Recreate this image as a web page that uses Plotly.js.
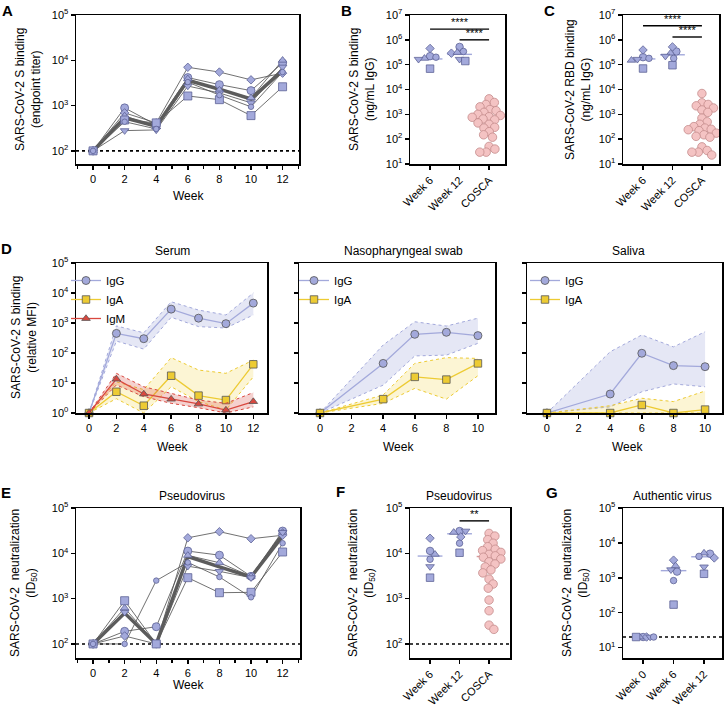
<!DOCTYPE html>
<html><head><meta charset="utf-8">
<script src="https://cdn.plot.ly/plotly-3.0.1.min.js"></script>
<style>html,body{margin:0;padding:0;background:#fff}#chart{width:724px;height:707px}</style>
</head><body><div id="chart"></div>
<script>
// ---------------- DATA ----------------
const weeksAE = [0, 2, 4, 6, 8, 10, 12];
// Panel A: S binding endpoint titer per animal (6 animals)
const A_circle      = [100, 890, 375, 4150, 2900, 2140, 8700];
const A_diamond     = [100, 690, 415, 7000, 5500, 3700, 5200];
const A_triUp       = [100, 590, 340, 3900, 2200, 1480, 10000];
const A_triDown     = [100, 280, 290, 2700, 1900, 1150, 7100];
const A_square      = [100, 480, 415, 1630, 1350, 600, 2600];
const A_smallCircle = [100, 440, 305, 3300, 1700, 940, 5500];
const A_gmean       = [100, 540, 350, 3600, 2300, 1400, 6000];
const A_lod = 100;

// Panels B, C, F, G: categories
const catBC = ['Week 6', 'Week 12', 'COSCA'];
const catF = ['Week 6', 'Week 12', 'COSCA'];
const catG = ['Week 0', 'Week 6', 'Week 12'];
// order of animals: circle, diamond, triangle-up, triangle-down, square, small circle
const B_week6  = [220000, 450000, 180000, 165000, 69000, 200000];
const B_week12 = [520000, 290000, 310000, 165000, 140000, 340000];
const B_cosca  = [4200, 3000, 2500, 2000, 1550, 1400, 1200, 1000, 900, 800, 760, 700, 650, 600, 450, 400, 300, 280, 200, 150, 120, 51, 40, 30, 30];
const B_median = [170000, 260000, 700];
const B_sig = [{from: 0, to: 2, y: 2.7e6, label: '****'}, {from: 1, to: 2, y: 1.0e6, label: '****'}];

const C_week6  = [200000, 390000, 150000, 165000, 70000, 180000];
const C_week12 = [340000, 520000, 290000, 220000, 95000, 180000];
const C_cosca  = [6900, 2900, 2500, 2200, 1800, 1500, 1200, 700, 500, 400, 320, 280, 250, 240, 220, 175, 150, 130, 120, 49, 35, 30, 30, 23];
const C_median = [170000, 250000, 250];
const C_sig = [{from: 0, to: 2, y: 3.7e6, label: '****'}, {from: 1, to: 2, y: 1.3e6, label: '****'}];

// Panel D: relative MFI, mean with band
const weeksSerum = [0, 2, 4, 6, 8, 10, 12];
const serumIgG    = [1, 450, 300, 2900, 1450, 950, 4600];
const serumIgG_hi = [1, 800, 470, 5100, 2700, 1850, 10000];
const serumIgG_lo = [1, 250, 135, 1550, 760, 680, 1850];
const serumIgA    = [1, 5.1, 1.75, 17.5, 3.8, 2.7, 42];
const serumIgA_hi = [1, 11, 6, 70, 27, 21, 58];
const serumIgA_lo = [1, 3, 1, 7.5, 2.4, 1.26, 16];
const serumIgM    = [1, 13.5, 4.3, 2.9, 2.0, 1.25, 2.4];
const serumIgM_hi = [1, 21, 7.5, 4.5, 2.7, 2.1, 4.8];
const serumIgM_lo = [1, 8.6, 3.5, 2.1, 1.5, 1.0, 1.6];

const weeksMucosal = [0, 4, 6, 8, 10];
const nasoIgG    = [1, 45, 420, 490, 380];
const nasoIgG_hi = [1, 185, 1100, 790, 1450];
const nasoIgG_lo = [1, 8.5, 80, 85, 210];
const nasoIgA    = [1, 2.9, 16, 13, 45];
const nasoIgA_hi = [1, 4, 45, 70, 66];
const nasoIgA_lo = [1, 2.1, 6.6, 2.9, 17.5];

const salIgG    = [1, 4.3, 98, 38, 35];
const salIgG_hi = [1, 110, 400, 160, 510];
const salIgG_lo = [1, 1.6, 5.1, 9.3, 7.5];
const salIgA    = [1, 1.0, 1.85, 1.0, 1.3];
const salIgA_hi = [1, 1.75, 3.1, 2.4, 5.4];
const salIgA_lo = [1, 1, 1, 1, 1];

// Panel E: pseudovirus ID50 per animal
const E_circle      = [100, 190, 240, 11200, 9100, 3100, 31000];
const E_diamond     = [100, 150, 100, 22000, 30000, 21000, 25000];
const E_triUp       = [100, 620, 100, 9000, 6200, 3100, 29000];
const E_triDown     = [100, 500, 100, 5200, 4000, 2900, 29000];
const E_square      = [100, 900, 100, 2900, 1350, 1380, 10700];
const E_smallCircle = [100, 100, 2500, 6300, 3000, 1070, 16700];
const E_gmean       = [100, 480, 100, 8500, 5000, 3000, 24000];
const E_lod = 100;

// Panel F
const F_week6  = [11300, 21500, 9500, 5100, 2900, 7400];
const F_week12 = [31000, 23000, 29000, 31000, 10300, 16700];
const F_cosca  = [27500, 24000, 20000, 16700, 14000, 12300, 11500, 10500, 9500, 8800, 8200, 7500, 6500, 5800, 5000, 4300, 3700, 2700, 2100, 1700, 930, 540, 260, 210];
const F_median = [8700, 27000, 8500];
const F_sig = [{from: 1, to: 2, y: 52000, label: '**'}];
const F_lod = 100;

// Panel G
const G_week0  = [20, 20, 20, 20, 20, 20];
const G_week6  = [1500, 3200, 2200, 1700, 170, 830];
const G_week12 = [4900, 3700, 5100, 2050, 1300, 4100];
const G_median = [20, 1600, 4000];
const G_lod = 20;

// ---------------- STYLE ----------------
const W = 724, H = 707;
const FONT = 'Liberation Sans, Arial, Helvetica, sans-serif';
const FILL = '#A3A9DB', EDGE = '#5d6296';
const PINK = '#F4C3C3', PINK_EDGE = '#c48c8c';
const SYM = ['circle', 'diamond', 'triangle-up', 'triangle-down', 'square', 'circle'];
const SIZE_LINE = [8, 6.5, 7.5, 7.5, 8, 5.5];
const SIZE_DOT = [7.5, 6.5, 7.5, 7.5, 7.5, 6.5];
const C_IGG = '#A3A9DB', C_IGA = '#EDCB33', C_IGM = '#D9483F';

const BOX = {
  A:  {n: 1, x: [76, 299],  y: [15, 164],  xr: [-1.08, 13.04], yr: [1.71, 5]},
  B:  {n: 2, x: [410, 505], y: [15, 164],  xr: [-0.68, 2.54], yr: [1, 7]},
  C:  {n: 3, x: [623, 719], y: [15, 164],  xr: [-0.68, 2.58], yr: [1, 7]},
  D1: {n: 4, x: [76, 267],  y: [263, 413], xr: [-0.95, 13], yr: [0, 5]},
  D2: {n: 5, x: [299, 495], y: [263, 413], xr: [-1.33, 11.08], yr: [0, 5]},
  D3: {n: 6, x: [527, 722], y: [263, 413], xr: [-1.26, 11.07], yr: [0, 5]},
  E:  {n: 7, x: [76, 300],  y: [508, 658], xr: [-1.08, 13.1], yr: [1.69, 5]},
  F:  {n: 8, x: [410, 510], y: [508, 658], xr: [-0.68, 2.71], yr: [1.69, 5]},
  G:  {n: 9, x: [623, 722], y: [508, 658], xr: [-0.66, 2.59], yr: [0.7, 5]},
};

const traces = [];
const layout = {
  width: W, height: H, margin: {l: 0, r: 0, t: 0, b: 0}, autosize: false,
  paper_bgcolor: '#fff', plot_bgcolor: '#fff', showlegend: true,
  font: {family: FONT, size: 11, color: '#000'},
  annotations: []
};
const axBase = {
  showline: true, linecolor: '#000', linewidth: 1.5, mirror: true,
  ticks: 'outside', ticklen: 4, tickwidth: 1.5, tickcolor: '#000',
  showgrid: false, zeroline: false, fixedrange: true,
  tickfont: {family: FONT, size: 11, color: '#000'}
};
function sfx(n) { return n === 1 ? '' : String(n); }
function decTicks(lo, hi) {
  const v = [], t = [];
  for (let e = lo; e <= hi; e++) { v.push(Math.pow(10, e)); t.push('10<sup>' + e + '</sup>'); }
  return {tickmode: 'array', tickvals: v, ticktext: t};
}
function setAxes(key, xo, yo) {
  const b = BOX[key], s = sfx(b.n);
  layout['xaxis' + s] = Object.assign({}, axBase, {domain: [b.x[0] / W, b.x[1] / W], range: b.xr, anchor: 'y' + s}, xo);
  layout['yaxis' + s] = Object.assign({}, axBase, {domain: [1 - b.y[1] / H, 1 - b.y[0] / H], range: b.yr, type: 'log', anchor: 'x' + s}, yo);
}
const weekTicks = {tickmode: 'array', tickvals: [0, 2, 4, 6, 8, 10, 12], ticktext: ['0', '2', '4', '6', '8', '10', '12'],
  minor: {dtick: 1, tick0: 0, ticks: 'outside', ticklen: 3, tickwidth: 1.5, tickcolor: '#000'}};
setAxes('A', weekTicks, decTicks(2, 5));
setAxes('B', {tickmode: 'array', tickvals: [0, 1, 2], ticktext: catBC, tickangle: -45}, decTicks(1, 7));
setAxes('C', {tickmode: 'array', tickvals: [0, 1, 2], ticktext: catBC, tickangle: -45}, decTicks(1, 7));
setAxes('D1', {tickmode: 'array', tickvals: [0, 2, 4, 6, 8, 10, 12]}, decTicks(0, 5));
setAxes('D2', {tickmode: 'array', tickvals: [0, 2, 4, 6, 8, 10]}, Object.assign(decTicks(0, 5), {showticklabels: false}));
setAxes('D3', {tickmode: 'array', tickvals: [0, 2, 4, 6, 8, 10]}, Object.assign(decTicks(0, 5), {showticklabels: false}));
setAxes('E', weekTicks, decTicks(2, 5));
setAxes('F', {tickmode: 'array', tickvals: [0, 1, 2], ticktext: catF, tickangle: -45}, decTicks(2, 5));
setAxes('G', {tickmode: 'array', tickvals: [0, 1, 2], ticktext: catG, tickangle: -45}, decTicks(1, 5));

function ax(key) { const s = sfx(BOX[key].n); return {xaxis: 'x' + s, yaxis: 'y' + s}; }
function add(key, t) { traces.push(Object.assign({type: 'scatter', showlegend: false, hoverinfo: 'skip', cliponaxis: false}, ax(key), t)); }

function lodLine(key, v) {
  const r = BOX[key].xr;
  add(key, {mode: 'lines', x: [r[0], r[1]], y: [v, v], line: {color: '#000', width: 1.6, dash: 'dot'}, cliponaxis: true});
}

// ---- line panels (A, E)
function linePanel(key, series, mean) {
  series.forEach(s => add(key, {mode: 'lines', x: weeksAE, y: s, line: {color: '#4d4d4d', width: 0.8}}));
  add(key, {mode: 'lines', x: weeksAE, y: mean, line: {color: '#5c5c5c', width: 3.5}});
  series.forEach((s, i) => add(key, {mode: 'markers', x: weeksAE, y: s,
    marker: {symbol: SYM[i], size: SIZE_LINE[i], color: FILL, line: {color: EDGE, width: 0.8}}}));
}
lodLine('A', A_lod);
linePanel('A', [A_circle, A_diamond, A_triUp, A_triDown, A_square, A_smallCircle], A_gmean);
lodLine('E', E_lod);
linePanel('E', [E_circle, E_diamond, E_triUp, E_triDown, E_square, E_smallCircle], E_gmean);

// ---- beeswarm offsets (deterministic, from values and axis scale)
function pxScales(key) {
  const b = BOX[key];
  return {dec: (b.y[1] - b.y[0]) / (b.yr[1] - b.yr[0]), unit: (b.x[1] - b.x[0]) / (b.xr[1] - b.xr[0])};
}
function swarm(key, vals, diam) {
  const sc = pxScales(key);
  const ys = vals.map(v => Math.log10(v) * sc.dec);
  const order = vals.map((v, i) => i).sort((a, b) => vals[b] - vals[a]);
  const placed = [], offs = new Array(vals.length);
  for (const i of order) {
    const y = ys[i];
    const cands = [0];
    for (const p of placed) {
      const dy = Math.abs(p.y - y);
      if (dy < diam) { const dx = Math.sqrt(diam * diam - dy * dy) + 0.01; cands.push(p.x + dx, p.x - dx); }
    }
    cands.sort((a, b) => Math.abs(a) - Math.abs(b));
    let best = 0;
    for (const c of cands) {
      if (placed.every(p => (p.x - c) ** 2 + (p.y - y) ** 2 >= diam * diam - 1e-6)) { best = c; break; }
    }
    placed.push({x: best, y: y});
    offs[i] = best / sc.unit;
  }
  return offs;
}
function medianLine(key, idx, v, color) {
  add(key, {mode: 'lines', x: [idx - 0.42, idx + 0.42], y: [v, v], line: {color: color, width: 1.4}});
}
function animalGroups(key, groups, positions, diams) {
  const offs = groups.map((g, k) => swarm(key, g, diams[k]));
  for (let i = 0; i < 6; i++) {
    add(key, {mode: 'markers', x: groups.map((g, k) => positions[k] + offs[k][i]), y: groups.map(g => g[i]),
      marker: {symbol: SYM[i], size: SIZE_DOT[i], color: FILL, line: {color: EDGE, width: 0.8}}});
  }
}
function cosca(key, vals, pos) {
  const o = swarm(key, vals, 6.4);
  add(key, {mode: 'markers', x: vals.map((v, i) => pos + o[i]), y: vals,
    marker: {symbol: 'circle', size: 8.5, color: PINK, line: {color: PINK_EDGE, width: 0.8}}});
}
function sigBars(key, list) {
  list.forEach(s => {
    add(key, {mode: 'lines', x: [s.from, s.to], y: [s.y, s.y], line: {color: '#000', width: 1.4}});
    add(key, {mode: 'text', x: [(s.from + s.to) / 2], y: [s.y], text: [s.label], textposition: 'top center',
      textfont: {family: FONT, size: 11, color: '#000'}});
  });
}

// B
medianLine('B', 0, B_median[0], FILL); medianLine('B', 1, B_median[1], FILL); medianLine('B', 2, B_median[2], '#d99a9a');
animalGroups('B', [B_week6, B_week12], [0, 1], [6, 6]);
cosca('B', B_cosca, 2);
sigBars('B', B_sig);
// C
medianLine('C', 0, C_median[0], FILL); medianLine('C', 1, C_median[1], FILL); medianLine('C', 2, C_median[2], '#d99a9a');
animalGroups('C', [C_week6, C_week12], [0, 1], [6, 6]);
cosca('C', C_cosca, 2);
sigBars('C', C_sig);
// F
lodLine('F', F_lod);
medianLine('F', 0, F_median[0], FILL); medianLine('F', 1, F_median[1], FILL); medianLine('F', 2, F_median[2], '#d99a9a');
animalGroups('F', [F_week6, F_week12], [0, 1], [6, 6]);
cosca('F', F_cosca, 2);
sigBars('F', F_sig);
// G
lodLine('G', G_lod);
medianLine('G', 1, G_median[1], FILL); medianLine('G', 2, G_median[2], FILL);
animalGroups('G', [G_week0, G_week6, G_week12], [0, 1, 2], [3.5, 6, 6]);

// ---- D panels
function bandSeries(key, weeks, mid, hi, lo, color, fillc, name, sym, legend) {
  add(key, {mode: 'lines', x: weeks, y: hi, line: {color: color, width: 1, dash: 'dot'}});
  add(key, {mode: 'lines', x: weeks, y: lo, line: {color: color, width: 1, dash: 'dot'}, fill: 'tonexty', fillcolor: fillc});
  traces.push(Object.assign({type: 'scatter', mode: 'lines+markers', x: weeks, y: mid, name: name, legend: legend,
    showlegend: true, cliponaxis: false, hoverinfo: 'skip',
    line: {color: color, width: 1.3},
    marker: {symbol: sym, size: sym === 'circle' ? 8 : 7.5, color: color, line: {color: '#555', width: 0.8}}}, ax(key)));
}
const FG = 'rgba(163,169,219,0.28)', FA = 'rgba(240,208,60,0.22)', FM = 'rgba(217,72,63,0.25)';
bandSeries('D1', weeksSerum, serumIgG, serumIgG_hi, serumIgG_lo, C_IGG, FG, 'IgG', 'circle', 'legend');
bandSeries('D1', weeksSerum, serumIgA, serumIgA_hi, serumIgA_lo, C_IGA, FA, 'IgA', 'square', 'legend');
bandSeries('D1', weeksSerum, serumIgM, serumIgM_hi, serumIgM_lo, C_IGM, FM, 'IgM', 'triangle-up', 'legend');
bandSeries('D2', weeksMucosal, nasoIgG, nasoIgG_hi, nasoIgG_lo, C_IGG, FG, 'IgG', 'circle', 'legend2');
bandSeries('D2', weeksMucosal, nasoIgA, nasoIgA_hi, nasoIgA_lo, C_IGA, FA, 'IgA', 'square', 'legend2');
bandSeries('D3', weeksMucosal, salIgG, salIgG_hi, salIgG_lo, C_IGG, FG, 'IgG', 'circle', 'legend3');
bandSeries('D3', weeksMucosal, salIgA, salIgA_hi, salIgA_lo, C_IGA, FA, 'IgA', 'square', 'legend3');

function legendAt(px, py) {
  return {x: px / W, y: 1 - py / H, xanchor: 'left', yanchor: 'top', bgcolor: 'rgba(0,0,0,0)',
    font: {family: FONT, size: 11.5, color: '#000'}, itemwidth: 30, borderwidth: 0,
    traceorder: 'normal'};
}
layout.legend = legendAt(66, 266);
layout.legend2 = legendAt(294, 266);
layout.legend3 = legendAt(525, 266);

// ---- annotations
function ann(text, px, py, o) {
  layout.annotations.push(Object.assign({text: text, x: px / W, y: 1 - py / H, xref: 'paper', yref: 'paper',
    showarrow: false, xanchor: 'center', yanchor: 'middle', font: {family: FONT, size: 12, color: '#000'}}, o || {}));
}
const bold = {font: {family: FONT, size: 15, color: '#000', weight: 'bold'}};
ann('<b>A</b>', 7, 10, bold); ann('<b>B</b>', 346, 10, bold); ann('<b>C</b>', 549, 10, bold);
ann('<b>D</b>', 6, 248, bold); ann('<b>E</b>', 6, 492, bold); ann('<b>F</b>', 340, 491, bold); ann('<b>G</b>', 552, 492, bold);

const rot = {textangle: -90};
ann('SARS-CoV-2 S binding<br>(endpoint titer)', 28, 90, rot);
ann('SARS-CoV-2 S binding<br>(ng/mL IgG)', 362, 90, rot);
ann('SARS-CoV-2 RBD binding<br>(ng/mL IgG)', 578, 90, rot);
ann('SARS-CoV-2 S binding<br>(relative MFI)', 24, 338, rot);
ann('SARS-CoV-2  neutralization<br>(ID<sub>50</sub>)', 23, 583, rot);
ann('SARS-CoV-2  neutralization<br>(ID<sub>50</sub>)', 361, 583, rot);
ann('SARS-CoV-2  neutralization<br>(ID<sub>50</sub>)', 575, 583, rot);

ann('Week', 188, 196); ann('Week', 172, 447); ann('Week', 399, 447); ann('Week', 627, 447); ann('Week', 188, 685);
ann('Serum', 172, 251); ann('Nasopharyngeal swab', 403, 251); ann('Saliva', 628, 251);
ann('Pseudovirus', 192, 496); ann('Pseudovirus', 459, 496); ann('Authentic virus', 672, 496);

Plotly.newPlot('chart', traces, layout, {staticPlot: true, displayModeBar: false});
</script></body></html>
